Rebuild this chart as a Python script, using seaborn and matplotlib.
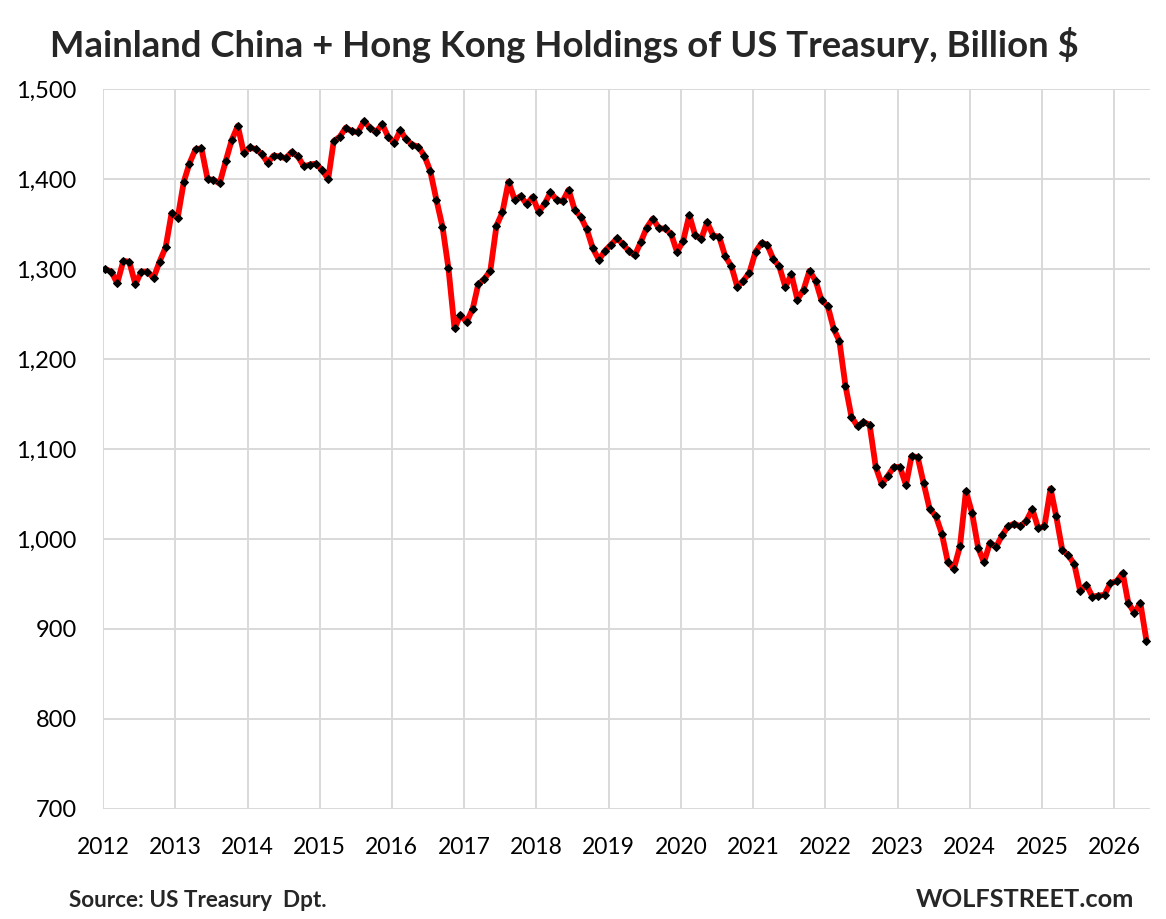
import pandas as pd
import matplotlib
matplotlib.use("Agg")
import matplotlib.pyplot as plt
import matplotlib.dates as mdates
import matplotlib.ticker as mticker
import seaborn as sns

# Monthly holdings, billion $, Jan 2012 onward
holdings_2012 = [1300, 1297, 1284, 1309, 1308, 1283, 1297, 1297, 1290, 1308, 1324, 1362]
holdings_2013 = [1357, 1397, 1417, 1433, 1434, 1400, 1399, 1395, 1420, 1443, 1459, 1429]
holdings_2014 = [1435, 1433, 1428, 1418, 1426, 1425, 1423, 1430, 1425, 1414, 1416, 1417]
holdings_2015 = [1410, 1400, 1442, 1447, 1457, 1453, 1452, 1464, 1457, 1452, 1461, 1447]
holdings_2016 = [1440, 1454, 1444, 1438, 1436, 1426, 1409, 1377, 1347, 1301, 1234, 1249]
holdings_2017 = [1241, 1256, 1283, 1289, 1298, 1348, 1363, 1397, 1377, 1381, 1372, 1380]
holdings_2018 = [1363, 1373, 1385, 1377, 1375, 1388, 1366, 1358, 1344, 1323, 1310, 1320]
holdings_2019 = [1327, 1334, 1328, 1320, 1315, 1330, 1346, 1356, 1345, 1345, 1339, 1319]
holdings_2020 = [1331, 1360, 1338, 1333, 1352, 1337, 1336, 1314, 1303, 1280, 1287, 1296]
holdings_2021 = [1319, 1329, 1327, 1311, 1303, 1280, 1294, 1266, 1277, 1298, 1287, 1265]
holdings_2022 = [1259, 1233, 1220, 1170, 1136, 1125, 1130, 1127, 1080, 1061, 1070, 1080]
holdings_2023 = [1080, 1060, 1092, 1091, 1062, 1033, 1026, 1006, 974, 967, 992, 1053]
holdings_2024 = [1029, 990, 974, 996, 991, 1004, 1014, 1017, 1014, 1020, 1033, 1012]
holdings_2025 = [1014, 1056, 1026, 988, 982, 972, 942, 949, 936, 937, 938, 951]
holdings_2026 = [953, 962, 929, 918, 929, 887]

values = (holdings_2012 + holdings_2013 + holdings_2014 + holdings_2015 + holdings_2016
          + holdings_2017 + holdings_2018 + holdings_2019 + holdings_2020 + holdings_2021
          + holdings_2022 + holdings_2023 + holdings_2024 + holdings_2025 + holdings_2026)

months = pd.date_range("2012-01-01", periods=len(values), freq="MS") + pd.Timedelta(days=12)
df = pd.DataFrame({"month": months, "holdings": values})

title = "Mainland China + Hong Kong Holdings of US Treasury, Billion $"
source = "Source: US Treasury  Dpt."
brand = "WOLFSTREET.com"


def draw(df):
    sns.set_theme(style="white")
    plt.rcParams["font.family"] = ["Lato", "DejaVu Sans"]

    fig = plt.figure(figsize=(11.66, 9.19), dpi=100)
    ax = fig.add_axes([0.0883, 0.1197, 0.8980, 0.7835])

    sns.lineplot(data=df, x="month", y="holdings", ax=ax, color="#ff0000",
                 linewidth=4.2, marker="D", markersize=3.8,
                 markerfacecolor="black", markeredgecolor="black", zorder=3)

    ax.set_ylim(700, 1500)
    ax.set_xlim(pd.Timestamp("2012-01-01"), pd.Timestamp("2026-07-01"))
    ax.yaxis.set_major_locator(mticker.MultipleLocator(100))
    ax.yaxis.set_major_formatter(mticker.FuncFormatter(lambda v, p: f"{v:,.0f}"))
    ax.xaxis.set_major_locator(mdates.YearLocator())
    ax.xaxis.set_major_formatter(mdates.DateFormatter("%Y"))

    ax.grid(True, color="#d9d9d9", linewidth=1.4)
    for s in ax.spines.values():
        s.set_visible(False)
    ax.tick_params(axis="x", length=8, width=1.4, color="#d9d9d9", pad=12,
                   labelsize=16.5, labelcolor="black")
    ax.tick_params(axis="y", length=0, pad=19, labelsize=17, labelcolor="black")
    ax.set_xlabel("")
    ax.set_ylabel("")

    fig.text(0.043, 0.938, title, fontsize=26.3, fontweight="bold", va="baseline")
    fig.text(0.059, 0.013, source, fontsize=16.2, fontweight="bold", va="baseline")
    fig.text(0.9726, 0.013, brand, fontsize=18.3, fontweight="bold", va="baseline", ha="right")

    fig.savefig("out.png", dpi=100)


def main():
    draw(df)


if __name__ == "__main__":
    main()
